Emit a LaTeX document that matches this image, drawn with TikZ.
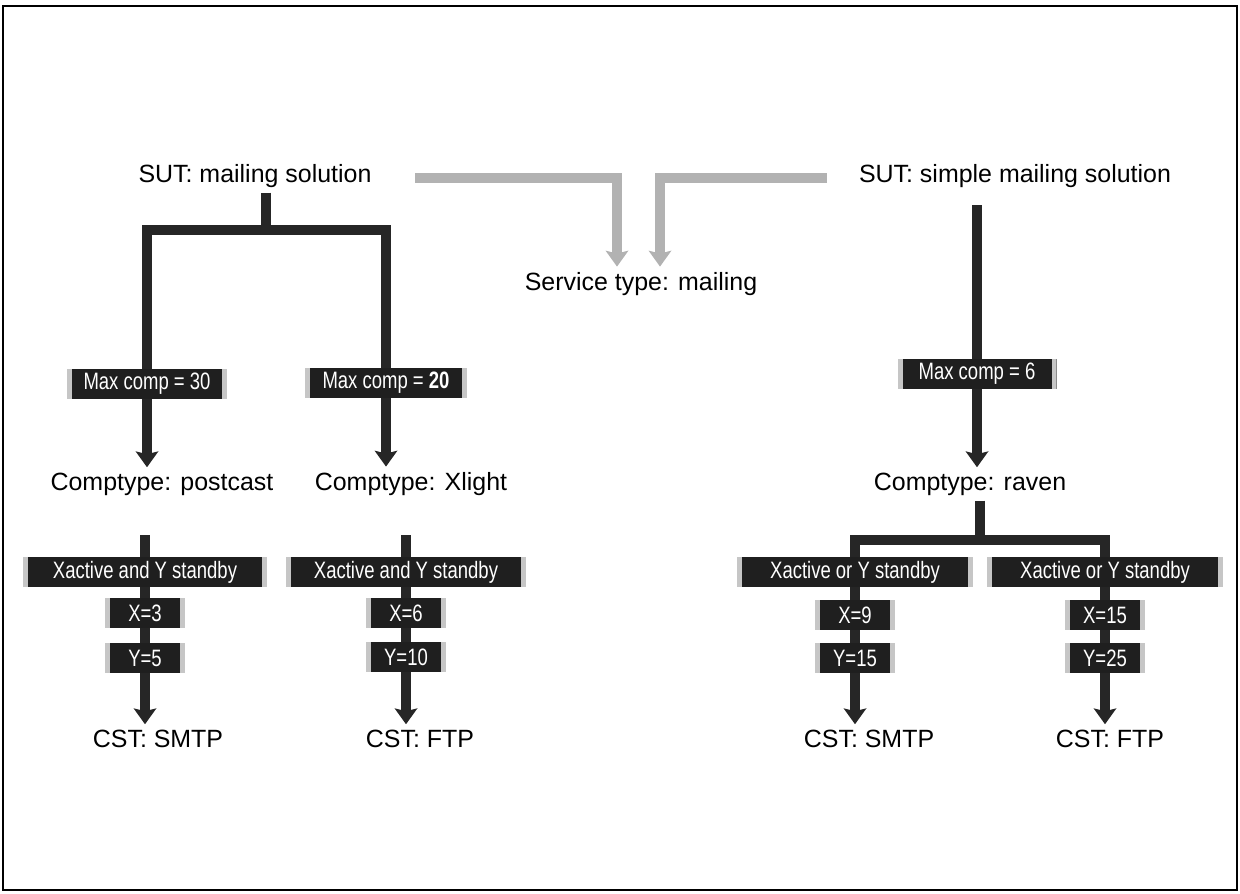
\documentclass[tikz,border=0pt]{standalone}
\usepackage{fontspec}
\setmainfont{Liberation Sans}
\newfontfamily\boxfont[FakeStretch=0.78]{Liberation Sans}
\usetikzlibrary{arrows.meta, calc}

\tikzset{
  label text/.style={font=\fontsize{14.2}{16}\selectfont, inner sep=0.1cm, anchor=base},
  valbox/.style={fill=black!88, text=white, font=\boxfont\fontsize{13.5}{15}\selectfont,
    minimum height=0.6cm, inner sep=0pt,
    path picture={
      \fill[gray!45] (path picture bounding box.south west) rectangle ([xshift=0.1cm]path picture bounding box.north west);
      \fill[gray!45] (path picture bounding box.south east) rectangle ([xshift=-0.1cm]path picture bounding box.north east);
    }},
  bar/.style={draw=black!85, line width=0.2cm},
  greybar/.style={draw=gray!60, line width=0.2cm},
  downarrow/.style={-{Stealth[width=0.46cm, length=0.32cm, inset=0.06cm, line width=0pt]}}
}

\begin{document}
\begin{tikzpicture}[x=0.02cm, y=-0.02cm, line join=miter]
		
		\useasboundingbox (0,0) rectangle (1240,893);
		\draw[line width=1.4pt] (3,6) rectangle (1237,890);
		
		% 1. Text labels (placed at their baselines)
		\node[label text] (sutA) at (255,182) {SUT: mailing solution};
		\node[label text] (sutB) at (1015,182) {SUT: simple mailing solution};
		\node[label text] (svc) at (641,290) {Service type: mailing};
		\node[label text] (ctA) at (162,490) {Comptype: postcast};
		\node[label text] (ctB) at (411,490) {Comptype: Xlight};
		\node[label text] (ctC) at (970,490) {Comptype: raven};
		\node[label text] (cstA) at (158,747) {CST: SMTP};
		\node[label text] (cstB) at (420,747) {CST: FTP};
		\node[label text] (cstC) at (869,747) {CST: SMTP};
		\node[label text] (cstD) at (1110,747) {CST: FTP};
		
		% 2. Dark value boxes
		\node[valbox, minimum width=3.2cm] (mcA) at (147,384) {Max comp = 30};
		\node[valbox, minimum width=3.24cm] (mcB) at (386,383) {Max comp = {\bfseries 20}};
		\node[valbox, minimum width=3.18cm] (mcC) at (977,374) {Max comp = 6};
		
		\node[valbox, minimum width=4.9cm] (xyA) at (145,572) {Xactive and Y standby};
		\node[valbox, minimum width=4.8cm] (xyB) at (406,572) {Xactive and Y standby};
		\node[valbox, minimum width=4.72cm] (xyC) at (855,572) {Xactive or Y standby};
		\node[valbox, minimum width=4.72cm] (xyD) at (1105,572) {Xactive or Y standby};
		
		\node[valbox, minimum width=1.6cm] (xA) at (145,613) {X=3};
		\node[valbox, minimum width=1.6cm] (yA) at (145,658) {Y=5};
		\node[valbox, minimum width=1.6cm] (xB) at (406,613) {X=6};
		\node[valbox, minimum width=1.6cm] (yB) at (406,657) {Y=10};
		\node[valbox, minimum width=1.6cm] (xC) at (855,615) {X=9};
		\node[valbox, minimum width=1.6cm] (yC) at (855,658) {Y=15};
		\node[valbox, minimum width=1.6cm] (xD) at (1105,615) {X=15};
		\node[valbox, minimum width=1.6cm] (yD) at (1105,658) {Y=25};
		
		% 3. Junction points
		\coordinate (jA) at (266,230);
		\coordinate (jC) at (980,540);
		\coordinate (sA) at (145,535);
		\coordinate (sB) at (406,535);
		\coordinate (sC) at (977,205);
		\coordinate (gA) at (415,178);
		\coordinate (gB) at (827,178);
		
		% 4. Left tree
		\draw[bar] (sutA.south -| jA) -- (jA);
		\draw[bar] (mcA.north) |- (jA) -| (mcB.north);
		\draw[bar, downarrow] (mcA.south) -- (mcA.south |- ctA.north);
		\draw[bar, downarrow] (mcB.south) -- (mcB.south |- ctB.north);
		\draw[bar] (sA) -- (xyA.north);
		\draw[bar] (sB) -- (xyB.north);
		
		% 5. Right tree
		\draw[bar] (sC) -- (mcC.north);
		\draw[bar, downarrow] (mcC.south) -- (mcC.south |- ctC.north);
		\draw[bar] (ctC.south -| jC) -- (jC);
		\draw[bar] (xyC.north) |- (jC) -| (xyD.north);
		
		% 6. Chains down to the CSTs
		\foreach \c in {A,B,C,D} {
			\draw[bar] (xy\c.south) -- (x\c.north);
			\draw[bar] (x\c.south) -- (y\c.north);
			\draw[bar, downarrow] (y\c.south) -- (y\c.south |- cst\c.north);
		}
		
		% 7. Both solutions give the service type
		\draw[greybar, downarrow] (gA) -| ($(svc.north)+(-24,0)$);
		\draw[greybar, downarrow] (gB) -| ($(svc.north)+(19,0)$);
		
	\end{tikzpicture}
\end{document}
